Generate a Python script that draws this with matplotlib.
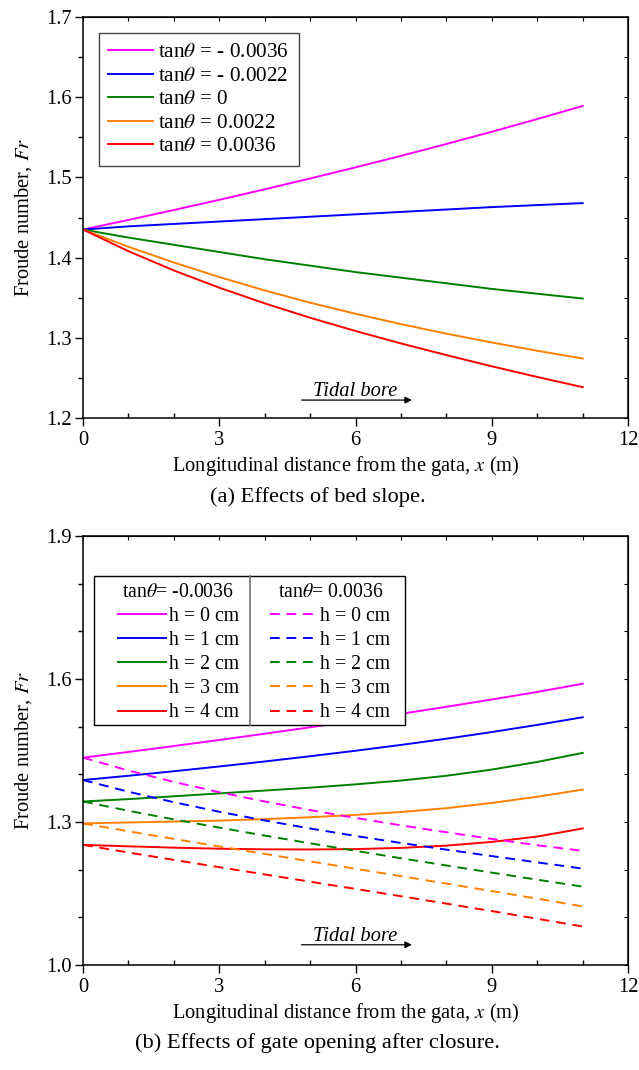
import matplotlib
matplotlib.use("Agg")
import matplotlib.pyplot as plt
from matplotlib.ticker import MultipleLocator, FixedLocator, FormatStrFormatter
from matplotlib.patches import Rectangle
from matplotlib.lines import Line2D

plt.rcParams['font.family'] = ['Liberation Serif', 'DejaVu Serif']
plt.rcParams['mathtext.fontset'] = 'stix'

x = [0, 1, 2, 3, 4, 5, 6, 7, 8, 9, 10, 11]

# (a) bed slope effects
slope_labels = [r'tan$\theta$ = - 0.0036', r'tan$\theta$ = - 0.0022', r'tan$\theta$ = 0',
                r'tan$\theta$ = 0.0022', r'tan$\theta$ = 0.0036']
fr_m0036 = [1.435, 1.447, 1.4594, 1.4721, 1.4852, 1.4987, 1.5126, 1.5269, 1.5417, 1.557, 1.5728, 1.5891]
fr_m0022 = [1.435, 1.439, 1.442, 1.445, 1.448, 1.451, 1.454, 1.457, 1.460, 1.463, 1.4655, 1.468]
fr_0 = [1.435, 1.425, 1.416, 1.407, 1.398, 1.390, 1.382, 1.375, 1.368, 1.361, 1.355, 1.349]
fr_p0022 = [1.435, 1.4135, 1.3939, 1.3758, 1.3591, 1.3438, 1.330, 1.3171, 1.3052, 1.2942, 1.2839, 1.2742]
fr_p0036 = [1.435, 1.408, 1.384, 1.3625, 1.343, 1.325, 1.3085, 1.293, 1.2785, 1.2645, 1.2512, 1.2385]
slope_series = [fr_m0036, fr_m0022, fr_0, fr_p0022, fr_p0036]

# (b) gate opening effects
h_labels = ['h = 0 cm', 'h = 1 cm', 'h = 2 cm', 'h = 3 cm', 'h = 4 cm']
neg_title = r'tan$\theta$= -0.0036'
pos_title = r'tan$\theta$= 0.0036'
neg_h0 = [1.435, 1.447, 1.4594, 1.4721, 1.4852, 1.4987, 1.5126, 1.5269, 1.5417, 1.557, 1.5728, 1.590]
neg_h1 = [1.388, 1.397, 1.4065, 1.4165, 1.427, 1.438, 1.4495, 1.4617, 1.4747, 1.4887, 1.5037, 1.5197]
neg_h2 = [1.343, 1.348, 1.354, 1.360, 1.366, 1.372, 1.379, 1.387, 1.397, 1.410, 1.426, 1.445]
neg_h3 = [1.297, 1.299, 1.301, 1.303, 1.306, 1.310, 1.315, 1.321, 1.329, 1.340, 1.353, 1.368]
neg_h4 = [1.252, 1.249, 1.2462, 1.244, 1.2427, 1.2424, 1.2432, 1.2457, 1.2505, 1.2583, 1.2695, 1.2865]
pos_h0 = [1.435, 1.408, 1.384, 1.3625, 1.343, 1.325, 1.3085, 1.293, 1.2785, 1.2645, 1.2512, 1.2395]
pos_h1 = [1.388, 1.3635, 1.3415, 1.3215, 1.3032, 1.2864, 1.2707, 1.256, 1.242, 1.2285, 1.2153, 1.2023]
pos_h2 = [1.343, 1.3235, 1.3055, 1.2882, 1.2715, 1.2553, 1.2395, 1.224, 1.2088, 1.1938, 1.179, 1.1644]
pos_h3 = [1.297, 1.2805, 1.2645, 1.2487, 1.233, 1.2174, 1.2019, 1.1864, 1.1708, 1.1551, 1.1392, 1.123]
pos_h4 = [1.252, 1.236, 1.2205, 1.2052, 1.190, 1.1748, 1.1596, 1.1443, 1.1288, 1.1131, 1.0971, 1.0808]
neg_series = [neg_h0, neg_h1, neg_h2, neg_h3, neg_h4]
pos_series = [pos_h0, pos_h1, pos_h2, pos_h3, pos_h4]

x_ticks = [0, 3, 6, 9, 12]
y_ticks_a = [1.2, 1.3, 1.4, 1.5, 1.6, 1.7]
y_ticks_b = [1.0, 1.3, 1.6, 1.9]

colors = ['#FF00FF', '#0000FF', '#008000', '#FF8000', '#FF0000']

FS = 14.8
LW = 1.4

fig = plt.figure(figsize=(6.39, 10.70), dpi=100)
ax1 = fig.add_axes([0.130, 0.6093, 0.853, 0.3748])
ax2 = fig.add_axes([0.130, 0.0981, 0.853, 0.4010])


def style(ax, ylim, yticks, ymin_step):
    ax.set_xlim(0, 12)
    ax.set_ylim(*ylim)
    ax.xaxis.set_major_locator(FixedLocator(x_ticks))
    ax.xaxis.set_minor_locator(MultipleLocator(1))
    ax.yaxis.set_major_locator(FixedLocator(yticks))
    ax.yaxis.set_minor_locator(MultipleLocator(ymin_step))
    ax.yaxis.set_major_formatter(FormatStrFormatter('%.1f'))
    ax.tick_params(axis='x', which='major', direction='out', length=6, width=1, labelsize=FS, pad=3)
    ax.tick_params(axis='x', which='minor', direction='in', length=3.5, width=1)
    ax.tick_params(axis='y', which='major', direction='out', length=6, width=1, labelsize=FS, pad=2)
    ax.tick_params(axis='y', which='minor', direction='out', length=3.5, width=1)
    for s in ax.spines.values():
        s.set_linewidth(1.1)
    sx = ax.secondary_xaxis('top')
    sx.xaxis.set_major_locator(FixedLocator(x_ticks))
    sx.xaxis.set_minor_locator(MultipleLocator(1))
    sx.tick_params(which='both', direction='in', length=3, width=0.8, labeltop=False)
    sy = ax.secondary_yaxis('right')
    sy.yaxis.set_major_locator(FixedLocator(yticks))
    sy.yaxis.set_minor_locator(MultipleLocator(ymin_step))
    sy.tick_params(which='both', direction='in', length=3, width=0.8, labelright=False)
    ax.set_xlabel('Longitudinal distance from the gata, $\\mathit{x}$ (m)', fontsize=FS, labelpad=5)
    ax.set_ylabel('Froude number, $\\mathit{Fr}$', fontsize=FS, labelpad=9)


style(ax1, (1.2, 1.7), y_ticks_a, 0.05)
ax1.xaxis.set_label_coords(0.483, -0.09)
for ys, c, lab in zip(slope_series, colors, slope_labels):
    ax1.plot(x, ys, color=c, lw=LW, label=lab)
leg1 = ax1.legend(loc='upper left', bbox_to_anchor=(0.029, 0.960), borderaxespad=0,
                  fontsize=15.3, handlelength=2.1, labelspacing=0.17, handletextpad=0.25,
                  borderpad=0.45, fancybox=False, framealpha=1, edgecolor='#444444')
leg1.get_frame().set_linewidth(1.0)

ax1.text(6.0, 1.2274, 'Tidal bore', style='italic', fontsize=FS, ha='center', va='baseline')
ax1.annotate('', xy=(7.3, 1.2224), xytext=(4.75, 1.2224),
             arrowprops=dict(arrowstyle='-|>', color='black', lw=0.9, mutation_scale=10))

style(ax2, (1.0, 1.9), y_ticks_b, 0.1)
ax2.xaxis.set_label_coords(0.483, -0.083)
neg_lines = []
pos_lines = []
for ys, c in zip(neg_series, colors):
    neg_lines.append(ax2.plot(x, ys, color=c, lw=LW)[0])
for ys, c in zip(pos_series, colors):
    pos_lines.append(ax2.plot(x, ys, color=c, lw=LW, dashes=(5, 3.5))[0])

# combined legend frame with divider
box_l, box_r, box_t, box_b, box_mid = 0.020, 0.591, 0.907, 0.559, 0.306
ax2.add_patch(Rectangle((box_l, box_b), box_r - box_l, box_t - box_b, transform=ax2.transAxes,
                        facecolor='white', edgecolor='black', lw=1.0, zorder=4))
ax2.add_line(Line2D([box_mid, box_mid], [box_b, box_t], transform=ax2.transAxes,
                    color='#777777', lw=1.2, zorder=5))
common = dict(fontsize=14.2, handlelength=2.4, labelspacing=0.26, handletextpad=0.15,
              borderpad=0.35, frameon=False, borderaxespad=0, title_fontsize=14.2)
legA = ax2.legend(neg_lines, h_labels, loc='upper center',
                  bbox_to_anchor=((box_l + box_mid) / 2 + 0.012, box_t), title=neg_title, **common)
legA.set_zorder(6)
ax2.add_artist(legA)
legB = ax2.legend(pos_lines, h_labels, loc='upper center',
                  bbox_to_anchor=((box_mid + box_r) / 2 + 0.005, box_t), title=pos_title, **common)
legB.set_zorder(6)

ax2.text(6.0, 1.0505, 'Tidal bore', style='italic', fontsize=FS, ha='center', va='baseline')
ax2.annotate('', xy=(7.3, 1.0425), xytext=(4.75, 1.0425),
             arrowprops=dict(arrowstyle='-|>', color='black', lw=0.9, mutation_scale=10))

fig.text(0.497, 0.5355, '(a) Effects of bed slope.', fontsize=16.2, ha='center', va='center')
fig.text(0.497, 0.025, '(b) Effects of gate opening after closure.', fontsize=16.2, ha='center', va='center')

fig.savefig('out.png', dpi=100)
